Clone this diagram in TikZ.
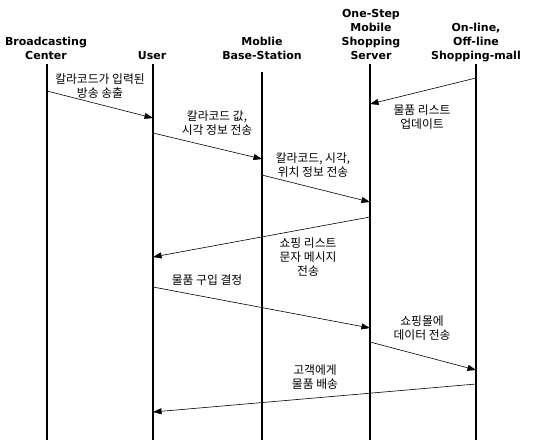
\documentclass[tikz,border=0pt]{standalone}
\usepackage{fontspec}
\setmainfont{Noto Sans CJK KR}
\newfontfamily\hdfont{DejaVu Sans}
\usetikzlibrary{arrows.meta,positioning}

\begin{document}
\begin{tikzpicture}[x=1pt,y=-1pt,
  hd/.style={font=\hdfont\bfseries\fontsize{11}{14}\selectfont,align=center,anchor=south,inner sep=0pt},
  lbl/.style={font=\fontsize{11.8}{14}\selectfont,align=center,inner sep=0pt},
  life/.style={line width=1.5pt},
  msg/.style={-{Triangle[length=3mm,width=2.1mm]},line width=0.6pt}]
\useasboundingbox (0,0) rectangle (543,440);
% heads of the lifelines
\node[hd] (bc) at (46,64) {Broadcasting\\Center\strut};
\node[hd] (us) at (152,64) {User\strut};
\node[hd] (bs) at (262,64) {Moblie\\Base-Station\strut};
\node[hd] (sv) at (371,64) {One-Step\\Mobile\\Shopping\\Server\strut};
\node[hd] (ml) at (476,64) {On-line,\\Off-line\\Shopping-mall\strut};
\coordinate (bcE) at (47,440);\coordinate (usE) at (153,440);
\coordinate (bsE) at (262,440);\coordinate (svE) at (370,440);
\coordinate (mlE) at (476,440);
\draw[life] (bcE|-bc.south)--(bcE);\draw[life] (usE|-us.south)--(usE);
\draw[life] ([yshift=-8pt]bsE|-bs.south)--(bsE);
\draw[life] (svE|-sv.south)--(svE);\draw[life] (mlE|-ml.south)--(mlE);
% message ends
\coordinate (m1a) at (47,91);\coordinate (m1b) at (153,118);
\coordinate (m0a) at (476,78);\coordinate (m0b) at (370,104);
\coordinate (m2a) at (153,133);\coordinate (m2b) at (262,159);
\coordinate (m3a) at (262,175);\coordinate (m3b) at (370,202);
\coordinate (m4a) at (370,217);\coordinate (m4b) at (153,257);
\coordinate (m5a) at (153,287);\coordinate (m5b) at (370,328);
\coordinate (m6a) at (370,342);\coordinate (m6b) at (476,370);
\coordinate (m7a) at (476,384);\coordinate (m7b) at (153,412);
\draw[msg] (m1a)--(m1b);\draw[msg] (m0a)--(m0b);
\draw[msg] (m2a)--(m2b);\draw[msg] (m3a)--(m3b);
\draw[msg] (m4a)--(m4b);\draw[msg] (m5a)--(m5b);
\draw[msg] (m6a)--(m6b);\draw[msg] (m7a)--(m7b);
% labels
\node[lbl] (l1) at (100,86) {칼라코드가 입력된\\방송 송출};
\node[lbl] (l0) at (422,117) {물품 리스트\\업데이트};
\node[lbl] (l2) at (217,123) {칼라코드 값,\\시각 정보 전송};
\node[lbl] (l3) at (313,165) {칼라코드, 시각,\\위치 정보 전송};
\node[lbl] (l4) at (308,257) {쇼핑 리스트\\문자 메시지\\전송};
\node[lbl] (l5) at (207,280) {물품 구입 결정};
\node[lbl] (l6) at (422,328) {쇼핑몰에\\데이터 전송};
\node[lbl] (l7) at (315,377) {고객에게\\물품 배송};
\end{tikzpicture}
\end{document}
